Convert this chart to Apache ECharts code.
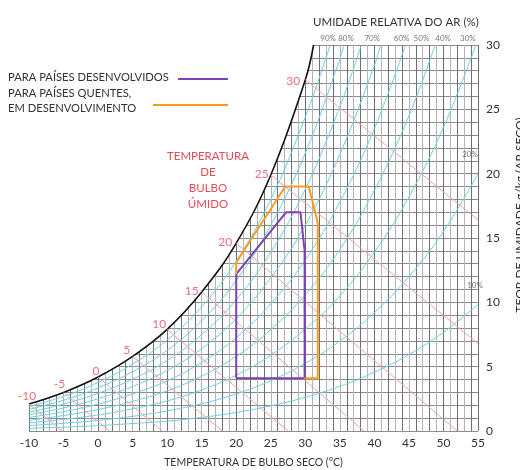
<!DOCTYPE html>
<html>
<head>
<meta charset="utf-8">
<script src="https://cdn.jsdelivr.net/npm/echarts@6/dist/echarts.min.js"></script>
<style>
  html, body { margin: 0; padding: 0; background: #fff; }
  #chart { width: 520px; height: 470px; }
</style>
</head>
<body>
<div id="chart"></div>
<script>
// dry bulb temperatures (°C) at which the curves were read
const tempC = [-10, -5, 0, 5, 10, 15, 20, 25, 30, 35, 40, 45, 50, 55];

// saturation curve (g/kg), plus the point where it leaves the top of the chart
const satHum = [2.1, 3.0, 4.2, 5.8, 7.9, 10.8, 14.6, 19.9, 27.3];
const satTop = [31.2, 30];

// relative humidity curves (g/kg along tempC)
const rh90 = [1.89, 2.69, 3.77, 5.2, 7.07, 9.66, 13.2, 18.0, 24.4];
const rh80 = [1.68, 2.39, 3.35, 4.61, 6.27, 8.57, 11.7, 16.0, 21.6, 28.9];
const rh70 = [1.46, 2.09, 2.93, 4.03, 5.48, 7.49, 10.2, 13.9, 18.8, 25.2];
const rh60 = [1.26, 1.79, 2.51, 3.46, 4.70, 6.41, 8.74, 11.9, 16.0, 21.5, 28.4];
const rh50 = [1.05, 1.50, 2.09, 2.88, 3.90, 5.33, 7.26, 9.88, 13.3, 17.8, 23.5];
const rh40 = [0.83, 1.20, 1.67, 2.30, 3.12, 4.26, 5.80, 7.88, 10.6, 14.1, 18.7, 24.5];
const rh30 = [0.63, 0.90, 1.25, 1.72, 2.34, 3.19, 4.34, 5.89, 7.92, 10.5, 13.9, 18.2, 23.6];
const rh20 = [0.42, 0.60, 0.83, 1.14, 1.56, 2.12, 2.88, 3.91, 5.26, 6.99, 9.20, 12.0, 15.5, 20.0];
const rh10 = [0.21, 0.30, 0.42, 0.58, 0.77, 1.06, 1.44, 1.95, 2.62, 3.47, 4.57, 5.94, 7.67, 9.83];
const rhNames = ['90%', '80%', '70%', '60%', '50%', '40%', '30%', '20%', '10%'];
// temperature where each curve reaches 30 g/kg (null = runs to the right edge)
const rhTopT = [33.6, 35.6, 38.1, 40.9, 44.5, 48.8, 54.7, null, null];

// wet bulb lines: start on the saturation curve, end on the chart border
const wbTemp = [-10, -5, 0, 5, 10, 15, 20, 25, 30];
const wbEndT = [-5.2, 1.6, 9.3, 18, 27.5, 38.5, 52, 55, 55];
const wbEndHum = [0, 0, 0, 0, 0, 0, 0, 6.8, 16.4];

// comfort zones
const devT = [20, 20, 27.2, 29.3, 29.9, 29.9, 20];
const devHum = [4.1, 12.2, 17, 17, 14, 4.1, 4.1];
const hotT = [29.9, 31.8, 31.8, 30.5, 27.1, 20, 20];
const hotHum = [4.1, 4.1, 16.2, 19, 19, 13.1, 12.2];

const FONT = 'Lato, "Open Sans", sans-serif';
const CYAN = '#6dcfe0';
const PINK = '#eda3ab';
const RED = '#e64a58';
const PURPLE = '#7e3fb8';
const ORANGE = '#ff9a1e';

// label nudges in pixels (style only)
const wbLabelShift = [[-2, -8], [-4, -8], [-2, -6], [-6, -6], [-8, -5], [-10, -1], [-11, -1], [-9, -1], [-12, 1]];
const rhLabelShift = [-2, 2, 11, 21, 16, 8, -8, -8, -3];

const chart = echarts.init(document.getElementById('chart'));

const satPts = satHum.map((w, i) => [tempC[i], w]).concat([satTop]);
const rhSets = [rh90, rh80, rh70, rh60, rh50, rh40, rh30, rh20, rh10];

const series = [];

// white cover above the saturation curve hides the grid there
series.push({
  type: 'line',
  data: satPts,
  smooth: 0.4,
  symbol: 'none',
  lineStyle: { color: '#111', width: 1.6 },
  areaStyle: { color: '#fff', opacity: 1, origin: 'end' },
  z: 3,
  silent: true
});

rhSets.forEach((arr, k) => {
  const pts = arr.map((w, i) => [tempC[i], w]);
  if (rhTopT[k] !== null) pts.push([rhTopT[k], 30]);
  series.push({
    type: 'line',
    data: pts,
    smooth: 0.4,
    symbol: 'none',
    lineStyle: { color: CYAN, width: 1 },
    z: 4,
    silent: true
  });
});

wbTemp.forEach((t, i) => {
  series.push({
    type: 'line',
    data: [[t, satHum[i]], [wbEndT[i], wbEndHum[i]]],
    symbol: 'none',
    lineStyle: { color: PINK, width: 1 },
    z: 4,
    silent: true
  });
});

// wet bulb numbers next to the saturation curve
series.push({
  type: 'scatter',
  data: wbTemp.map((t, i) => ({
    value: [t, satHum[i]], name: String(t),
    label: { offset: wbLabelShift[i] }
  })),
  symbolSize: 0,
  label: {
    show: true,
    position: 'inside',
    formatter: p => p.name,
    color: RED,
    fontSize: 12,
    fontFamily: FONT
  },
  z: 10,
  silent: true
});

// relative humidity labels
series.push({
  type: 'scatter',
  data: rhNames.map((n, k) => {
    if (rhTopT[k] !== null) {
      return { value: [rhTopT[k], 30], name: n, label: { position: 'top', distance: 3, offset: [rhLabelShift[k], 0] } };
    }
    const arr = rhSets[k];
    return { value: [55, arr[arr.length - 1]], name: n, label: { position: 'top', distance: 15, offset: [rhLabelShift[k], 0] } };
  }),
  symbolSize: 0,
  label: {
    show: true,
    formatter: p => p.name,
    color: '#555',
    fontSize: 8,
    fontFamily: FONT
  },
  z: 10,
  silent: true
});

series.push({
  type: 'line',
  data: devT.map((t, i) => [t, devHum[i]]),
  symbol: 'none',
  lineStyle: { color: PURPLE, width: 2 },
  z: 7,
  silent: true
});
series.push({
  type: 'line',
  data: hotT.map((t, i) => [t, hotHum[i]]),
  symbol: 'none',
  lineStyle: { color: ORANGE, width: 2 },
  z: 7,
  silent: true
});

const hiddenX = (step, color) => ({
  type: 'value', min: -10, max: 55, interval: step,
  axisLabel: { show: false }, axisLine: { show: false }, axisTick: { show: false },
  splitLine: { show: true, lineStyle: { color: color, width: 1 } }
});

const option = {
  animation: false,
  grid: { left: 29, right: 42, top: 45, bottom: 39, containLabel: false, outerBoundsMode: 'none' },
  xAxis: [
    {
      type: 'value', min: -10, max: 55, interval: 5,
      axisLine: { show: false }, axisTick: { show: false }, splitLine: { show: false },
      axisLabel: { color: '#333', fontSize: 12, fontFamily: FONT, margin: 6 },
      name: 'TEMPERATURA DE BULBO SECO (°C)',
      nameLocation: 'middle', nameGap: 26,
      nameTextStyle: { color: '#333', fontSize: 10.5, fontFamily: FONT }
    },
    hiddenX(1, '#b4b4b4'),
    hiddenX(2, '#707070')
  ],
  yAxis: [
    {
      type: 'value', min: 0, max: 30, interval: 5, position: 'right',
      axisLine: { show: false }, axisTick: { show: false }, splitLine: { show: false },
      axisLabel: { color: '#333', fontSize: 12, fontFamily: FONT, margin: 8 }
    },
    {
      type: 'value', min: 0, max: 30, interval: 1, position: 'right',
      axisLabel: { show: false }, axisLine: { show: false }, axisTick: { show: false },
      splitLine: { show: true, lineStyle: { color: '#8c8c8c', width: 1 } }
    }
  ],
  graphic: [
    { type: 'text', z: 100, left: 313, top: 16, style: { text: 'UMIDADE RELATIVA DO AR (%)', fill: '#333', font: '11.5px ' + FONT } },
    {
      type: 'text', z: 100, x: 520, y: 215, rotation: Math.PI / 2,
      style: { text: 'TEOR DE UMIDADE g/kg (AR SECO)', fill: '#333', font: '12px ' + FONT, align: 'center', verticalAlign: 'middle' }
    },
    { type: 'text', z: 100, left: 8, top: 72, style: { text: 'PARA PAÍSES DESENVOLVIDOS', fill: '#333', font: '11.2px ' + FONT } },
    { type: 'line', z: 100, shape: { x1: 178, y1: 79, x2: 228, y2: 79 }, style: { stroke: PURPLE, lineWidth: 2 } },
    { type: 'text', z: 100, left: 8, top: 88, style: { text: 'PARA PAÍSES QUENTES,', fill: '#333', font: '11.2px ' + FONT } },
    { type: 'text', z: 100, left: 8, top: 103, style: { text: 'EM DESENVOLVIMENTO', fill: '#333', font: '11.2px ' + FONT } },
    { type: 'line', z: 100, shape: { x1: 153, y1: 105, x2: 228, y2: 105 }, style: { stroke: ORANGE, lineWidth: 2 } },
    {
      type: 'text', z: 100, x: 208, y: 148,
      style: { text: 'TEMPERATURA\nDE\nBULBO\nÚMIDO', fill: RED, font: '11.5px ' + FONT, align: 'center', lineHeight: 16 }
    }
  ],
  series: series
};

chart.setOption(option);
</script>
</body>
</html>
